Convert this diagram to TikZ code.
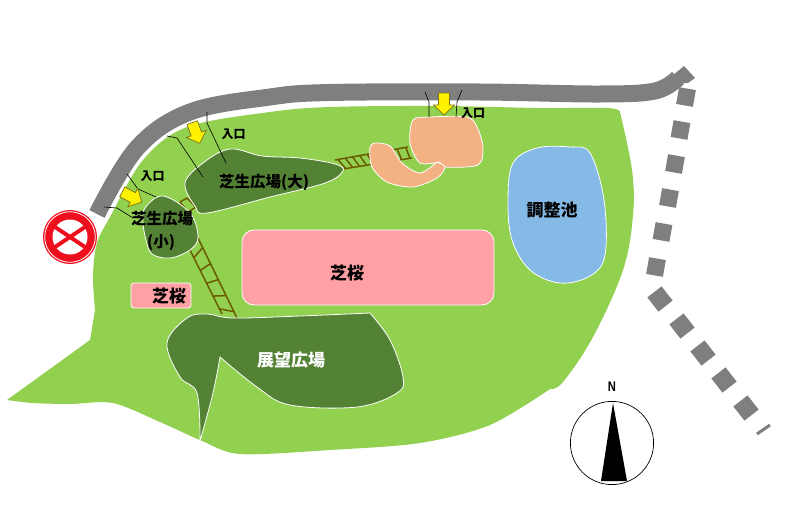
\documentclass[tikz,border=0pt]{standalone}
\usepackage{fontspec}
\setsansfont{Liberation Sans}
\newfontfamily\cjk{Noto Sans CJK JP}
\usetikzlibrary{calc}
\definecolor{parkgreen}{HTML}{92D050}
\definecolor{lawngreen}{HTML}{548235}
\definecolor{sakura}{HTML}{FFA0A4}
\definecolor{pondblue}{HTML}{85B9E6}
\definecolor{plaza}{HTML}{F4B183}
\definecolor{roadgray}{HTML}{7F7F7F}
\definecolor{ladderbrown}{HTML}{6B5A00}
\definecolor{signred}{HTML}{EE0F1E}
\tikzset{
	area/.style={draw=white,line width=0.8pt},
	ladderline/.style={draw=ladderbrown,line width=1.5pt},
	leader/.style={draw=black,line width=0.6pt},
	yellowarrow/.style={fill=yellow,draw=olive!80!black,line width=0.7pt,line join=miter},
	labelbig/.style={font=\cjk\bfseries\fontsize{17}{17}\selectfont,inner sep=0pt},
	labelmid/.style={font=\cjk\bfseries\fontsize{15.5}{15.5}\selectfont,inner sep=0pt},
	labelsmall/.style={font=\cjk\bfseries\fontsize{12}{12}\selectfont,inner sep=0pt},
}
\begin{document}
\begin{tikzpicture}[x=1pt,y=-1pt]
	\useasboundingbox (0,0) rectangle (788,512);
	% park ground
	\fill[parkgreen] plot[smooth,tension=0.55] coordinates {(95,310) (93,275) (97,243) (110,217) (143,160) (187,127) (270,112) (330,107) (440,106) (540,108) (608,108) (620,112)}
		-- plot[smooth,tension=0.6] coordinates {(620,112) (632,170) (633,215) (623,270) (593,337) (563,382) (550,389)}
		-- plot[smooth,tension=0.5] coordinates {(550,389) (490,425) (420,443) (330,450) (240,454) (200,440) (160,422) (113,403) (70,404) (33,403) (7,400)}
		-- (90,340) -- cycle;
	% road
	\draw[roadgray,line width=17pt] plot[smooth,tension=0.6] coordinates {(97,214) (137,148) (190,112) (270,97) (330,92.5) (480,92) (600,94) (655,91) (678,78)};
	\fill[roadgray] (684,66) -- (695,78) -- (688,83) -- (672,84) -- (672,76) -- cycle;
	\foreach \x/\y in {686/97,681/130,675/165,669/198,662,232/0}{}
	\foreach \x/\y in {686/97,680.5/130,675/164,669/198,662.5/232,656/267}
		\fill[roadgray,rotate around={-10:(\x,\y)}] (\x-8.5,\y-8.5) rectangle (\x+8.5,\y+8.5);
	\foreach \x/\y in {660/299,682/326,703/353,724/380,746/408}
		\fill[roadgray,rotate around={38:(\x,\y)}] (\x-9,\y-9) rectangle (\x+9,\y+9);
	\coordinate (roadA) at (757,434);
	\coordinate (roadB) at (770,425);
	\draw[roadgray,line width=3pt] (roadA) -- (roadB);
	% ladders
	\coordinate (ladAa) at (190,250);
	\coordinate (ladAb) at (222,314);
	\coordinate (ladBa) at (198,238);
	\coordinate (ladBb) at (237,318);
	\draw[ladderline] (ladAa) -- (ladAb) (ladBa) -- (ladBb);
	\foreach \s in {0.12,0.32,0.52,0.72,0.92}
		\draw[ladderline] ($(ladAa)!\s!(ladAb)$) -- ($(ladBa)!\s!(ladBb)$);
	\coordinate (ladCa) at (180,202);
	\coordinate (ladCb) at (188,212);
	\coordinate (ladDa) at (187,198);
	\coordinate (ladDb) at (196,207);
	\draw[ladderline] (ladCa) -- (ladDa) (ladCb) -- (ladDb) (ladCa) -- (ladCb) (ladDa) -- (ladDb);
	\coordinate (ladEa) at (335,160);
	\coordinate (ladEb) at (408,147);
	\coordinate (ladFa) at (343,169);
	\coordinate (ladFb) at (412,158);
	\draw[ladderline] (ladEa) -- (ladEb) (ladFa) -- (ladFb);
	\foreach \s in {0.04,0.14,0.24,0.34,0.44,0.85,0.97}
		\draw[ladderline] ($(ladEa)!\s!(ladEb)$) -- ($(ladFa)!\s!(ladFb)$);
	% lawns
	\draw[area,fill=lawngreen] plot[smooth cycle,tension=0.6] coordinates {(185,183) (203,163) (230,149) (262,156) (300,158) (335,164) (343,171) (325,183) (270,197) (207,213) (195,206)};
	\draw[area,fill=lawngreen] plot[smooth cycle,tension=0.6] coordinates {(163,196) (145,208) (143,222) (146,240) (152,254) (170,258) (190,250) (198,237) (190,213)};
	\draw[area,fill=lawngreen] plot[smooth,tension=0.6] coordinates {(200,441) (197,393) (180,377) (167,343) (187,318) (207,314) (233,318) (300,316) (370,313)}
		-- plot[smooth,tension=0.6] coordinates {(370,313) (390,340) (403,377) (397,393) (357,407) (290,405) (257,387) (220,357)}
		-- plot[smooth,tension=0.6] coordinates {(220,357) (213,393) (200,441)} -- cycle;
	% sakura beds
	\draw[area,fill=sakura,rounded corners=12pt] (242,230) rectangle (494,305);
	\draw[area,fill=sakura,rounded corners=3pt] (131,283) rectangle (191,308);
	% pond
	\draw[area,fill=pondblue] plot[smooth cycle,tension=0.6] coordinates {(590,153) (570,147) (537,148) (513,163) (508,200) (512,240) (530,270) (560,283) (590,276) (605,255) (604,200)};
	% plaza
	\draw[area,fill=plaza] plot[smooth,tension=0.5] coordinates {(440,162) (420,163) (410,143) (413,120) (430,117) (467,117) (477,127) (483,147) (478,165) (445,167) (440,162)};
	\draw[area,fill=plaza] plot[smooth,tension=0.5] coordinates {(437,162) (420,173) (402,163) (390,146) (375,143) (370,148) (372,167) (387,182) (413,187) (437,178) (445,167) (437,162)};
	% leaders
	\coordinate (leadAa) at (104,207); \coordinate (leadAb) at (133,218);
	\coordinate (leadBa) at (127,174); \coordinate (leadBb) at (156,197);
	\coordinate (leadCa) at (167,136); \coordinate (leadCb) at (203,177);
	\coordinate (leadDa) at (207,112); \coordinate (leadDb) at (226,163);
	\coordinate (leadEa) at (425,92);  \coordinate (leadEb) at (429,117);
	\coordinate (leadFa) at (462,90);  \coordinate (leadFb) at (456,117);
	\draw[leader] (leadAa) -- (117,208) -- (leadAb);
	\draw[leader] (leadBa) -- (138,189) -- (leadBb);
	\draw[leader] (leadCa) -- (177,138) -- (leadCb);
	\draw[leader] (leadDa) -- (207,123) -- (leadDb);
	\draw[leader] (leadEa) -- (429,102) -- (leadEb);
	\draw[leader] (leadFa) -- (457,102) -- (leadFb);
	% entrance arrows
	\foreach \x/\y/\a in {444/104/0,196/133/20,132/197/62}
		\draw[yellowarrow,shift={(\x pt,-\y pt)},rotate=\a] (-5.5,-11) -- (5.5,-11) -- (5.5,1) -- (10.5,1) -- (0,11) -- (-10.5,1) -- (-5.5,1) -- cycle;
	% no entry sign
	\fill[signred] (70,237) circle (27);
	\draw[white,line width=0.8pt] (70,237) circle (25.3);
	\fill[white] (70,237) circle (17.5);
	\begin{scope}
		\clip (70,237) circle (18);
		\draw[signred,line width=4pt] (52,225) -- (88,249) (52,249) -- (88,225);
	\end{scope}
	% compass
	\coordinate (compassC) at (612,443);
	\draw[black,line width=0.7pt,fill=white] (compassC) circle (41.6);
	\fill[black] (613,403) -- (627,481) -- (601,481) -- cycle;
	\node[font=\sffamily\bfseries\fontsize{14}{14}\selectfont,inner sep=0pt,xscale=0.8] (north) at (612,387) {N};
	% labels
	\node[labelsmall] (entryA) at (233.5,134.5) {入口};
	\node[labelsmall] (entryB) at (152.5,176) {入口};
	\node[labelsmall] (entryC) at (473,113) {入口};
	\node[labelmid] (lawnL) at (264,182) {芝生広場(大)};
	\node[labelmid] (lawnS) at (162,219) {芝生広場};
	\node[labelmid] (lawnSb) at (161,243) {(小)};
	\node[labelbig] (sakuraS) at (169,296) {芝桜};
	\node[labelbig] (sakuraL) at (347,273) {芝桜};
	\node[labelbig] (pond) at (552,210) {調整池};
	\node[labelbig,text=white] (view) at (291,360) {展望広場};
\end{tikzpicture}
\end{document}
